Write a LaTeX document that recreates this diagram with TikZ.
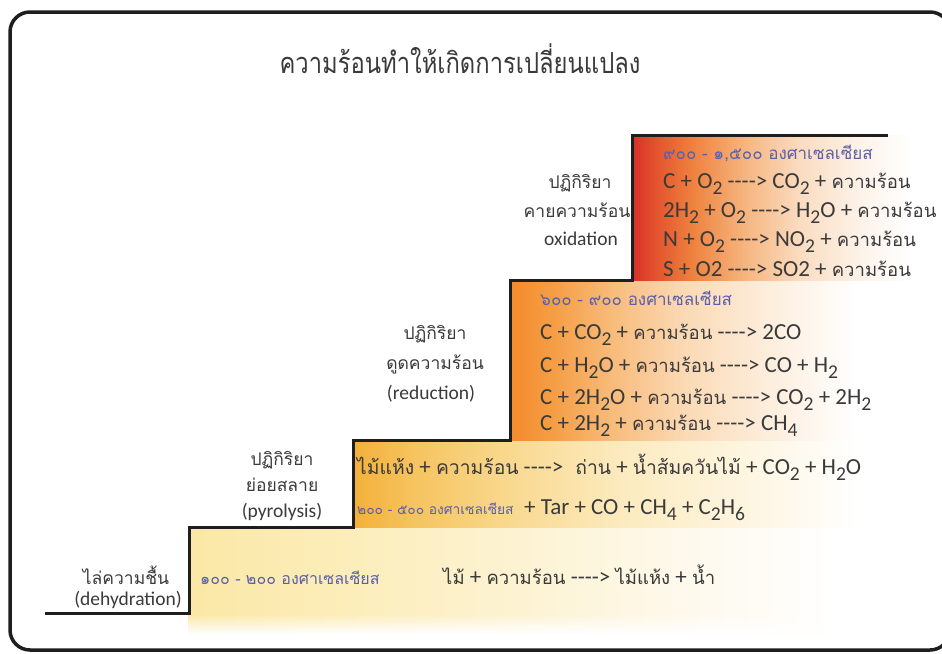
\documentclass[tikz,border=0pt]{standalone}
\usepackage{fontspec}
\usepackage{graphicx}
\setmainfont{Carlito}
\newfontfamily\thaifont[Script=Thai]{Loma}
\usetikzlibrary{fadings}
\definecolor{txt}{HTML}{3A3A3A}
\definecolor{lbl}{HTML}{5A5FA8}
\definecolor{stepline}{HTML}{1E1E1E}
\definecolor{redA}{HTML}{D7302A}\definecolor{redB}{HTML}{E4542E}
\definecolor{redC}{HTML}{EF8340}\definecolor{redD}{HTML}{F6B47E}
\definecolor{redE}{HTML}{FADCC0}\definecolor{redF}{HTML}{FDF3EA}
\definecolor{orA}{HTML}{F48A2B}\definecolor{orB}{HTML}{F59E45}
\definecolor{orC}{HTML}{F8BC7C}\definecolor{orD}{HTML}{FBD9B4}
\definecolor{orE}{HTML}{FDEEDD}
\definecolor{yeA}{HTML}{F3B03A}\definecolor{yeB}{HTML}{F6C35E}
\definecolor{yeC}{HTML}{F9D88E}\definecolor{yeD}{HTML}{FCEBC0}
\definecolor{yeE}{HTML}{FEF7E6}
\definecolor{paA}{HTML}{FBE8A6}\definecolor{paB}{HTML}{FCEDB9}
\definecolor{paC}{HTML}{FDF3D3}\definecolor{paD}{HTML}{FEF9EC}
\newcommand\arw{-\kern0pt-\kern0pt-\kern0pt->}
\newcommand\sbs[1]{\raisebox{-0.28em}{\scalebox{0.85}{#1}}}
\newcommand\thai[1]{{\thaifont\fontsize{18.5}{22}\selectfont #1}}
\newcommand\thaib[1]{{\thaifont\fontsize{19.3}{22}\selectfont #1}}
\pgfdeclarehorizontalshading{redfade}{100bp}{%
  color(0bp)=(redA); color(25bp)=(redA); color(29bp)=(redB); color(35bp)=(redC);
  color(43bp)=(redD); color(52bp)=(redE); color(62bp)=(redF); color(70bp)=(white); color(100bp)=(white)}
\pgfdeclarehorizontalshading{orangefade}{100bp}{%
  color(0bp)=(orA); color(25bp)=(orA); color(30bp)=(orB); color(37bp)=(orC);
  color(45bp)=(orD); color(55bp)=(orE); color(65bp)=(white); color(100bp)=(white)}
\pgfdeclarehorizontalshading{yellowfade}{100bp}{%
  color(0bp)=(yeA); color(25bp)=(yeA); color(30bp)=(yeB); color(38bp)=(yeC);
  color(48bp)=(yeD); color(60bp)=(yeE); color(68bp)=(white); color(100bp)=(white)}
\pgfdeclarehorizontalshading{palefade}{100bp}{%
  color(0bp)=(paA); color(25bp)=(paA); color(35bp)=(paB); color(47bp)=(paC);
  color(58bp)=(paD); color(68bp)=(white); color(100bp)=(white)}
\tikzset{
  eq/.style={font=\fontsize{23}{26}\selectfont, text=txt, inner sep=0pt, anchor=base west},
  temp/.style={font=\thaifont\fontsize{17}{20}\selectfont, text=lbl, inner sep=0pt, anchor=base west},
  stageth/.style={font=\thaifont\fontsize{17.5}{21}\selectfont, text=txt, inner sep=0pt, anchor=base},
  stageen/.style={font=\fontsize{19.5}{24}\selectfont, text=txt, inner sep=0pt, anchor=base},
  ttl/.style={font=\thaifont\fontsize{29}{34}\selectfont, text=txt, inner sep=0pt, anchor=base},
}
\begin{document}
\begin{tikzpicture}[x=1pt,y=-1pt]
\useasboundingbox (0,0) rectangle (942,653);
\fill[white] (0,0) rectangle (942,653);
% colour blocks
\shade[shading=palefade] (189,527) rectangle (942,615);
\shade[shading=palefade, path fading=south] (189,614) rectangle (942,634);
\shade[shading=yellowfade] (353,440) rectangle (942,527);
\shade[shading=orangefade] (510,280) rectangle (942,440);
\shade[shading=redfade] (632,135) rectangle (942,280);
% step line
\coordinate (s0) at (45,613);
\coordinate (s1) at (189,613);
\coordinate (s2) at (189,527);
\coordinate (s3) at (353,527);
\coordinate (s4) at (353,440);
\coordinate (s5) at (510,440);
\coordinate (s6) at (510,280);
\coordinate (s7) at (632,280);
\coordinate (s8) at (632,135);
\coordinate (s9) at (888,135);
\draw[stepline, line width=3pt] (s0) -- (s1) -- (s2) -- (s3) -- (s4) -- (s5) -- (s6) -- (s7) -- (s8) -- (s9);
% title
\node[ttl] (title) at (460,73) {\scalebox{0.82}[1]{ความร้อนทำให้เกิดการเปลี่ยนแปลง}};
% oxidation
\node[stageth] (ox1) at (580,188) {ปฏิกิริยา};
\node[stageth] (ox2) at (577,217) {คายความร้อน};
\node[stageen] (ox3) at (581,245) {oxidation};
\node[temp] (oxt) at (663,159) {๙๐๐ - ๑,๕๐๐ องศาเซลเซียส};
\node[eq] (oxa) at (663,188) {C + O\sbs{2} \arw{} CO\sbs{2} + \thai{ความร้อน}};
\node[eq] (oxb) at (663,217) {2H\sbs{2} + O\sbs{2} \arw{} H\sbs{2}O + \thai{ความร้อน}};
\node[eq] (oxc) at (663,246) {N + O\sbs{2} \arw{} NO\sbs{2} + \thai{ความร้อน}};
\node[eq] (oxd) at (663,276) {S + O2 \arw{} SO2 + \thai{ความร้อน}};
% reduction
\node[stageth] (rd1) at (435,339) {ปฏิกิริยา};
\node[stageth] (rd2) at (435,369) {ดูดความร้อน};
\node[stageen] (rd3) at (431,399) {(reduction)};
\node[temp] (rdt) at (540,305) {๖๐๐ - ๙๐๐ องศาเซลเซียส};
\node[eq] (rda) at (540,339) {C + CO\sbs{2} + \thai{ความร้อน} \arw{} 2CO};
\node[eq] (rdb) at (540,372) {C + H\sbs{2}O + \thai{ความร้อน} \arw{} CO + H\sbs{2}};
\node[eq] (rdc) at (540,404) {C + 2H\sbs{2}O + \thai{ความร้อน} \arw{} CO\sbs{2} + 2H\sbs{2}};
\node[eq] (rdd) at (540,430) {C + 2H\sbs{2} + \thai{ความร้อน} \arw{} CH\sbs{4}};
% pyrolysis
\node[stageth] (py1) at (282,465) {ปฏิกิริยา};
\node[stageth] (py2) at (282,491) {ย่อยสลาย};
\node[stageen] (py3) at (282,517) {(pyrolysis)};
\node[eq] (pya) at (357,474) {\thaib{ไม้แห้ง} + \thaib{ความร้อน} \arw{}\hspace{12pt}\thaib{ถ่าน} + \thaib{น้ำส้มควันไม้} + CO\sbs{2} + H\sbs{2}O};
\node[temp, font=\thaifont\fontsize{13.8}{17}\selectfont] (pyt) at (357,514) {๒๐๐ - ๕๐๐ องศาเซลเซียส};
\node[eq] (pyb) at (524,514) {+ Tar + CO + CH\sbs{4} + C\sbs{2}H\sbs{6}};
% dehydration
\node[stageth] (dh1) at (126,584) {ไล่ความชื้น};
\node[stageen] (dh2) at (128,605) {(dehydration)};
\node[temp, font=\thaifont\fontsize{16}{19}\selectfont] (dht) at (200,584) {๑๐๐ - ๒๐๐ องศาเซลเซียส};
\node[eq] (dha) at (443,584) {\thai{ไม้} + \thai{ความร้อน} \arw{} \thai{ไม้แห้ง} + \thai{น้ำ}};
% frame
\draw[stepline, line width=3.5pt, rounded corners=20pt] (10,12) rectangle (950,650);
\end{tikzpicture}
\end{document}
